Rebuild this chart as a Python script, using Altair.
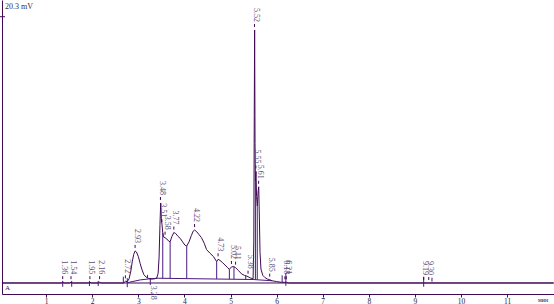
import altair as alt
import pandas as pd

# ---- data (time in min, signal in mV) ----
curve_t = [0.04, 1.33, 1.36, 1.39, 1.51, 1.54, 1.57, 1.92, 1.95, 1.98, 2.13, 2.16, 2.19,
           2.68, 2.72, 2.76, 2.80, 2.84, 2.87, 2.90, 2.93, 2.96, 3.00, 3.04, 3.08, 3.12,
           3.17, 3.22, 3.28, 3.35, 3.40, 3.43, 3.45, 3.47, 3.485, 3.50, 3.515, 3.53, 3.55,
           3.58, 3.62, 3.66, 3.69, 3.73, 3.77, 3.81, 3.86, 3.91, 3.96, 4.01, 4.05, 4.10,
           4.15, 4.19, 4.22, 4.26, 4.31, 4.37, 4.43, 4.48, 4.55, 4.63, 4.70, 4.73, 4.77,
           4.83, 4.88, 4.93, 4.975, 5.02, 5.07, 5.11, 5.17, 5.24, 5.30, 5.35, 5.38, 5.44,
           5.49, 5.505, 5.515, 5.523, 5.532, 5.54, 5.553, 5.565, 5.58, 5.60, 5.612, 5.625,
           5.64, 5.66, 5.70, 5.75, 5.80, 5.85, 5.90, 6.00, 6.10, 6.18, 6.21, 6.26, 9.19,
           9.30, 12.0]
curve_v = [0.0, 0.0, 0.06, 0.0, 0.0, 0.06, 0.0, 0.0, 0.06, 0.0, 0.0, 0.06, 0.0,
           0.0, 0.12, 0.10, 0.30, 0.90, 1.55, 2.05, 2.30, 2.22, 1.90, 1.40, 0.95, 0.60,
           0.42, 0.33, 0.28, 0.30, 0.36, 0.70, 1.80, 4.20, 5.74, 4.60, 4.15, 3.60, 3.30,
           3.25, 3.15, 3.00, 2.96, 3.35, 3.62, 3.55, 3.35, 3.20, 2.95, 2.72, 2.65, 2.95,
           3.40, 3.72, 3.80, 3.70, 3.50, 3.25, 2.85, 2.40, 2.15, 1.90, 1.53, 1.70, 1.62,
           1.45, 1.29, 1.12, 0.98, 1.15, 1.18, 1.10, 0.90, 0.65, 0.55, 0.50, 0.45, 0.35,
           0.30, 3.00, 12.0, 18.15, 10.0, 7.30, 8.00, 6.20, 5.50, 6.60, 6.90, 4.80,
           2.20, 1.00, 0.55, 0.38, 0.28, 0.24, 0.16, 0.10, 0.05, 0.05, 0.05, 0.0, 0.0,
           0.0, 0.0]

peak_labels = ["1.36", "1.54", "1.95", "2.16", "2.72", "2.93", "3.48", "3.51", "3.58",
               "3.77", "4.22", "4.73", "5.02", "5.11", "5.38", "5.52", "5.55", "5.61",
               "5.85", "6.18", "6.21", "9.19", "9.30"]
peak_t = [1.36, 1.54, 1.95, 2.16, 2.72, 2.93, 3.48, 3.51, 3.58, 3.77, 4.22, 4.73, 5.02,
          5.11, 5.38, 5.52, 5.55, 5.61, 5.85, 6.18, 6.21, 9.19, 9.30]
peak_v = [0.06, 0.06, 0.06, 0.06, 0.12, 2.30, 5.74, 4.15, 3.25, 3.62, 3.80, 1.70, 1.15,
          1.10, 0.45, 18.15, 8.00, 6.90, 0.24, 0.05, 0.05, 0.0, 0.0]

neg_label = ["3.28"]
neg_t = [3.28]
neg_v = [-0.12]

drop_t = [3.53, 3.69, 4.05, 4.70, 4.975, 5.075, 5.33, 5.54, 5.58]
drop_top = [3.60, 2.96, 2.65, 1.53, 0.98, 1.17, 0.52, 7.30, 5.50]
drop_bot = [0.34, 0.33, 0.32, 0.29, 0.28, 0.28, 0.26, 0.25, 0.25]

base_t = [2.76, 3.04, 3.25, 3.43, 5.49, 5.90]
base_v = [0.02, 0.22, 0.30, 0.34, 0.25, 0.16]

mark_t = [1.36, 1.555, 1.94, 2.13, 2.675, 2.76, 3.20, 3.26, 6.12, 6.20, 9.19, 9.37]
mark_top = [0.15, 0.15, 0.15, 0.15, 0.45, 0.35, 0.58, 0.36, 0.55, 0.70, 0.45, 0.38]
mark_bot = [-0.27, -0.27, -0.22, -0.22, 0.0, -0.30, 0.36, -0.15, 0.05, -0.20, -0.27, 0.10]

x_ticks = [1, 2, 3, 4, 5, 6, 7, 8, 9, 10, 11]
full_scale = ["20.3 mV"]
channel = ["A"]
unit_text = ["мин"]

LINE = "#3f0a55"
DROP = "#4a1880"
LAB = "#5e4d76"
FONT = "Liberation Serif"

df_curve = pd.DataFrame({"t": curve_t, "v": curve_v})
df_peaks = pd.DataFrame({"t": peak_t, "v": peak_v, "lab": peak_labels})
df_neg = pd.DataFrame({"t": neg_t, "v": neg_v, "lab": neg_label})
df_drop = pd.DataFrame({"t": drop_t, "v": drop_top, "v2": drop_bot})
df_base = pd.DataFrame({"t": base_t, "v": base_v})
df_mark = pd.DataFrame({"t": mark_t, "v": mark_top, "v2": mark_bot})
one = pd.DataFrame({"title": full_scale, "ch": channel, "unit": unit_text})

xs = alt.Scale(domain=[0.043, 12.017], nice=False, zero=False)
ys = alt.Scale(domain=[-0.79, 20.3], nice=False, zero=False)
xaxis = alt.Axis(values=x_ticks, title=None, grid=False, tickSize=3, labelPadding=0,
                 labelFont=FONT, labelFontSize=7.5, labelColor="#2a1a3a",
                 domainColor=LINE, tickColor=LINE, labelFlush=False)
yaxis = alt.Axis(title=None, grid=False, ticks=False, labels=False, domainColor=LINE)

X = alt.X("t:Q", scale=xs, axis=xaxis)
Y = alt.Y("v:Q", scale=ys, axis=yaxis)

baseline = alt.Chart(one).mark_rule(color=LINE, strokeWidth=1).encode(
    y=alt.datum(0, scale=ys)
)
integ = alt.Chart(df_base).mark_line(color=DROP, strokeWidth=1).encode(x=X, y=Y)
curve = alt.Chart(df_curve).mark_line(color=LINE, strokeWidth=1).encode(x=X, y=Y)
drops = alt.Chart(df_drop).mark_rule(color=DROP, strokeWidth=1).encode(x=X, y=Y, y2="v2:Q")
marks = alt.Chart(df_mark).mark_rule(color=DROP, strokeWidth=1).encode(x=X, y=Y, y2="v2:Q")
dashes = alt.Chart(df_peaks).mark_rule(
    color=LINE, strokeWidth=1, yOffset=-6, y2Offset=-3
).encode(x=X, y=Y, y2="v:Q")
labels = alt.Chart(df_peaks).mark_text(
    angle=90, align="right", baseline="middle", dx=-8, dy=-1.5,
    font=FONT, fontSize=8, color=LAB
).encode(x=X, y=Y, text="lab:N")
neglab = alt.Chart(df_neg).mark_text(
    angle=90, align="left", baseline="middle", dx=1, dy=-1.5,
    font=FONT, fontSize=8, color=LAB
).encode(x=X, y=Y, text="lab:N")

ytick = alt.Chart(one).mark_rule(color=LINE, strokeWidth=1).encode(
    x=alt.value(-2), x2=alt.value(3), y=alt.datum(19.1, scale=ys)
)
title = alt.Chart(one).mark_text(
    align="left", baseline="middle", font=FONT, fontSize=8, color="#3a2a4a"
).encode(x=alt.value(3), y=alt.value(7), text="title:N")
a_lab = alt.Chart(one).mark_text(
    align="left", baseline="middle", font=FONT, fontSize=7, color="#2a1a3a"
).encode(x=alt.value(3), y=alt.value(288), text="ch:N")
unit = alt.Chart(one).mark_text(
    align="left", baseline="top", font=FONT, fontSize=6, color="#2a1a3a"
).encode(x=alt.value(536), y=alt.value(297), text="unit:N")

chart = alt.layer(
    baseline, integ, drops, marks, curve, dashes, labels, neglab, ytick, title, a_lab, unit
).properties(
    width=552, height=294, autosize="none", background="white",
    padding={"left": 2, "top": 0, "right": 0, "bottom": 10}
).configure_view(stroke=None)

chart.save("out.html", embed_options={"renderer": "svg", "actions": False})
